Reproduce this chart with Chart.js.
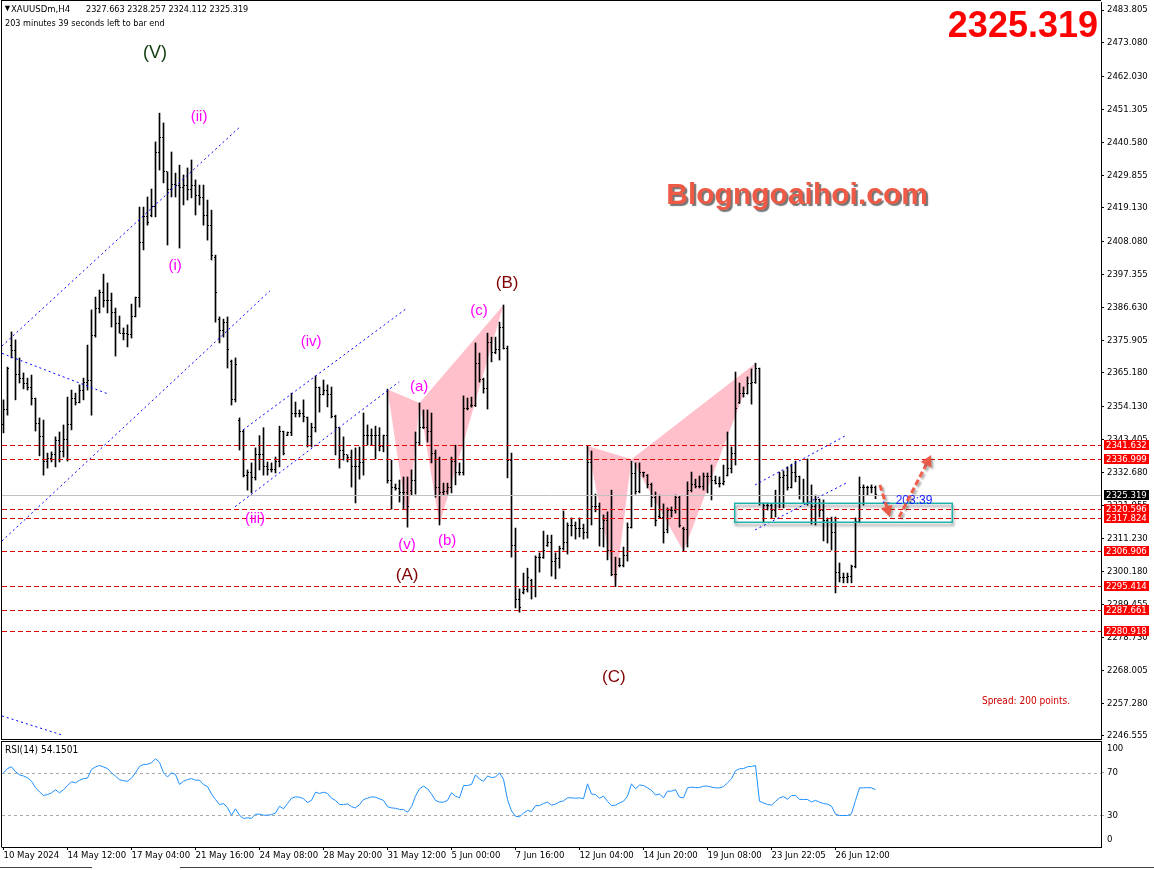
<!DOCTYPE html>
<html>
<head>
<meta charset="utf-8">
<script src="https://cdn.jsdelivr.net/npm/chart.js@4.4.1/dist/chart.umd.min.js"></script>
<style>
  html, body { margin: 0; padding: 0; background: #fff; }
  #wrap { position: relative; width: 1154px; height: 870px; overflow: hidden; }
  canvas { position: absolute; left: 0; }
  #main { top: 0; }
  #rsi { top: 740px; }
</style>
</head>
<body>
<div id="wrap">
  <canvas id="main" width="1154" height="740"></canvas>
  <canvas id="rsi" width="1154" height="130"></canvas>
</div>
<script>
// XAUUSDm H4 bars, 10 May 2024 .. 26 Jun 2024 (bar index 0..218)
const opens = [
  2348.2, 2353.1, 2374.3, 2372.4, 2364.8, 2363.5, 2361.9, 2360.6, 2357.0, 2348.8,
  2344.3, 2336.1, 2337.4, 2338.4, 2343.0, 2339.4, 2343.6, 2348.2, 2356.7, 2355.4,
  2359.6, 2362.2, 2362.6, 2377.3, 2386.4, 2391.6, 2389.0, 2389.0, 2384.8, 2381.5,
  2378.2, 2378.2, 2377.6, 2383.8, 2389.7, 2407.7, 2416.2, 2416.8, 2419.7, 2437.4,
  2442.3, 2430.9, 2425.0, 2426.9, 2426.6, 2425.9, 2426.6, 2425.0, 2426.6, 2423.3,
  2422.4, 2416.8, 2413.5, 2402.8, 2382.5, 2379.2, 2381.8, 2368.8, 2356.4, 2349.8,
  2345.9, 2331.8, 2332.5, 2330.9, 2338.4, 2338.4, 2334.5, 2333.8, 2333.8, 2336.1,
  2345.9, 2344.9, 2345.6, 2352.1, 2352.1, 2352.1, 2350.5, 2344.3, 2347.3, 2360.3,
  2358.0, 2359.6, 2358.0, 2350.8, 2347.3, 2340.0, 2338.4, 2337.7, 2334.5, 2334.5,
  2335.8, 2344.7, 2344.7, 2344.7, 2344.7, 2341.3, 2344.7, 2330.2, 2327.9, 2327.3,
  2326.0, 2326.0, 2326.9, 2330.2, 2342.6, 2347.3, 2347.3, 2345.9, 2339.0, 2327.9,
  2326.0, 2326.3, 2327.6, 2336.4, 2332.5, 2332.5, 2353.7, 2354.5, 2354.7, 2368.4,
  2363.2, 2360.0, 2375.3, 2372.0, 2372.7, 2380.2, 2373.3, 2336.7, 2308.9, 2291.0,
  2293.6, 2294.3, 2297.5, 2295.5, 2305.0, 2305.0, 2308.9, 2309.9, 2303.7, 2304.7,
  2307.7, 2309.9, 2315.5, 2315.5, 2314.5, 2314.5, 2312.9, 2335.8, 2321.4, 2321.4,
  2314.5, 2317.1, 2307.3, 2299.2, 2302.4, 2302.4, 2305.7, 2314.8, 2332.2, 2326.3,
  2332.5, 2331.8, 2328.6, 2324.6, 2318.3, 2318.1, 2313.9, 2320.4, 2320.4, 2324.6,
  2314.5, 2313.9, 2326.9, 2328.6, 2328.2, 2328.2, 2331.2, 2331.2, 2330.2, 2329.2,
  2329.2, 2331.8, 2334.1, 2339.0, 2355.6, 2358.6, 2358.6, 2361.9, 2362.2, 2366.5,
  2322.4, 2322.0, 2322.0, 2320.4, 2325.3, 2330.9, 2331.8, 2327.9, 2332.5, 2331.2,
  2325.0, 2325.0, 2325.0, 2321.4, 2323.7, 2320.1, 2317.1, 2316.2, 2312.9, 2300.1,
  2298.5, 2298.5, 2298.8, 2301.8, 2316.5, 2327.6, 2327.9, 2327.9, 2327.663
];
const highs = [
  2356.4, 2367.1, 2378.6, 2376.0, 2370.1, 2365.2, 2363.5, 2364.5, 2357.0, 2350.5,
  2349.8, 2339.0, 2339.4, 2344.3, 2345.9, 2348.2, 2357.3, 2359.6, 2358.6, 2361.3,
  2363.5, 2374.3, 2385.8, 2390.0, 2392.3, 2397.5, 2394.6, 2391.3, 2386.4, 2383.8,
  2379.9, 2380.9, 2387.7, 2390.0, 2419.4, 2419.4, 2422.7, 2425.3, 2440.7, 2450.1,
  2446.9, 2430.9, 2437.4, 2430.5, 2433.1, 2429.9, 2432.2, 2434.8, 2428.3, 2426.6,
  2426.6, 2421.7, 2418.4, 2403.7, 2383.5, 2382.8, 2383.5, 2369.4, 2370.1, 2350.5,
  2346.6, 2333.5, 2335.8, 2340.7, 2344.7, 2347.3, 2336.1, 2335.8, 2337.7, 2347.8,
  2346.2, 2345.9, 2358.6, 2355.7, 2353.1, 2356.4, 2350.8, 2348.8, 2364.2, 2360.6,
  2362.9, 2361.3, 2360.6, 2351.4, 2347.3, 2344.3, 2338.4, 2340.0, 2340.7, 2341.0,
  2352.1, 2348.2, 2346.9, 2347.8, 2347.3, 2344.9, 2359.9, 2336.7, 2328.9, 2330.2,
  2331.2, 2331.2, 2333.5, 2345.9, 2355.4, 2353.1, 2353.1, 2352.1, 2340.0, 2337.7,
  2329.2, 2329.2, 2337.7, 2341.6, 2335.8, 2357.7, 2357.0, 2357.3, 2375.0, 2371.7,
  2363.5, 2378.2, 2376.9, 2376.9, 2381.8, 2387.4, 2374.0, 2339.0, 2314.5, 2294.6,
  2299.8, 2301.4, 2297.8, 2305.4, 2306.4, 2313.5, 2312.2, 2312.2, 2306.4, 2308.6,
  2320.1, 2316.2, 2317.8, 2316.5, 2317.8, 2315.8, 2341.3, 2339.7, 2325.6, 2322.7,
  2318.8, 2319.8, 2326.9, 2305.0, 2304.7, 2308.3, 2316.2, 2336.4, 2335.8, 2335.8,
  2332.8, 2332.0, 2329.2, 2326.3, 2325.3, 2322.4, 2321.1, 2321.4, 2325.3, 2325.0,
  2314.8, 2329.6, 2332.8, 2330.5, 2331.5, 2332.5, 2332.5, 2335.1, 2331.5, 2331.2,
  2335.1, 2345.9, 2341.0, 2365.5, 2361.9, 2360.6, 2363.9, 2366.5, 2368.4, 2366.8,
  2322.7, 2322.7, 2322.4, 2326.9, 2332.8, 2333.2, 2334.5, 2335.4, 2336.4, 2331.5,
  2330.5, 2337.1, 2328.6, 2325.3, 2324.0, 2323.7, 2317.8, 2318.1, 2318.1, 2303.1,
  2299.8, 2299.8, 2302.4, 2317.8, 2331.2, 2328.6, 2328.2, 2328.6, 2328.257
];
const lows = [
  2345.6, 2351.4, 2370.1, 2356.4, 2361.9, 2360.0, 2359.6, 2354.7, 2346.2, 2338.1,
  2331.8, 2334.1, 2336.1, 2334.5, 2336.1, 2337.7, 2336.4, 2346.6, 2354.7, 2355.4,
  2356.4, 2359.6, 2351.4, 2376.9, 2384.8, 2386.7, 2384.8, 2380.2, 2370.7, 2378.2,
  2376.0, 2373.7, 2376.6, 2383.5, 2386.7, 2405.4, 2413.5, 2416.2, 2416.2, 2431.5,
  2427.3, 2407.0, 2422.7, 2422.7, 2406.0, 2420.1, 2421.7, 2422.4, 2416.8, 2420.1,
  2413.5, 2408.6, 2402.1, 2381.8, 2375.0, 2376.9, 2366.8, 2354.7, 2355.7, 2340.0,
  2331.2, 2326.9, 2326.0, 2330.2, 2333.5, 2331.8, 2331.8, 2332.8, 2332.5, 2334.5,
  2338.4, 2344.7, 2344.7, 2350.8, 2350.8, 2349.2, 2341.0, 2341.0, 2345.9, 2352.4,
  2358.0, 2354.1, 2350.5, 2338.4, 2334.1, 2336.7, 2336.1, 2327.9, 2322.7, 2330.5,
  2331.8, 2341.6, 2341.6, 2337.1, 2339.7, 2339.4, 2329.2, 2320.7, 2326.9, 2323.0,
  2320.7, 2314.8, 2325.3, 2325.6, 2341.6, 2347.0, 2342.6, 2335.8, 2324.6, 2315.5,
  2325.3, 2325.6, 2326.0, 2328.6, 2331.8, 2331.8, 2353.1, 2354.0, 2354.2, 2362.2,
  2358.6, 2353.4, 2368.8, 2371.5, 2369.4, 2373.0, 2330.9, 2305.0, 2288.4, 2287.0,
  2293.0, 2293.6, 2291.3, 2292.0, 2300.1, 2304.6, 2308.5, 2298.8, 2297.9, 2301.4,
  2307.3, 2306.0, 2311.9, 2310.9, 2311.6, 2310.9, 2311.2, 2315.5, 2319.8, 2308.6,
  2308.3, 2304.1, 2298.9, 2295.4, 2301.8, 2301.8, 2303.7, 2314.5, 2325.6, 2326.0,
  2331.2, 2327.6, 2321.4, 2315.2, 2317.8, 2309.6, 2312.9, 2318.1, 2319.4, 2314.8,
  2306.9, 2308.3, 2326.3, 2327.6, 2327.6, 2326.9, 2326.0, 2323.7, 2328.9, 2327.9,
  2328.6, 2331.5, 2332.5, 2335.1, 2355.2, 2357.3, 2358.3, 2355.0, 2361.8, 2322.0,
  2316.2, 2320.4, 2317.8, 2318.1, 2321.1, 2321.1, 2326.9, 2327.6, 2329.6, 2324.0,
  2322.7, 2322.0, 2315.8, 2315.5, 2318.1, 2310.3, 2309.6, 2307.3, 2293.3, 2296.9,
  2296.6, 2296.6, 2296.6, 2301.5, 2316.2, 2322.0, 2325.3, 2326.0, 2324.112
];
const closes = [
  2353.1, 2366.8, 2372.4, 2364.8, 2363.5, 2361.9, 2360.6, 2357.0, 2348.8, 2344.3,
  2336.1, 2337.4, 2338.4, 2343.0, 2339.4, 2343.6, 2348.2, 2356.7, 2355.4, 2359.6,
  2362.2, 2362.6, 2377.3, 2386.4, 2391.6, 2389.0, 2389.0, 2384.8, 2381.5, 2378.2,
  2378.2, 2377.6, 2383.8, 2389.7, 2407.7, 2416.2, 2414.2, 2419.7, 2437.4, 2442.3,
  2430.9, 2425.0, 2426.9, 2426.6, 2425.9, 2426.6, 2425.0, 2426.6, 2423.3, 2422.4,
  2416.8, 2413.5, 2403.7, 2391.6, 2379.2, 2381.8, 2372.7, 2356.4, 2368.1, 2345.9,
  2331.8, 2332.5, 2330.9, 2338.4, 2338.4, 2334.5, 2333.8, 2333.8, 2336.1, 2345.9,
  2339.0, 2345.6, 2352.1, 2352.1, 2352.1, 2350.8, 2344.3, 2347.3, 2360.3, 2358.0,
  2359.6, 2358.0, 2350.8, 2347.3, 2340.0, 2338.4, 2337.7, 2334.5, 2334.5, 2335.8,
  2344.7, 2344.7, 2344.7, 2344.7, 2341.3, 2344.7, 2330.2, 2327.9, 2327.3, 2326.0,
  2326.0, 2321.4, 2330.2, 2342.6, 2347.3, 2347.3, 2345.9, 2339.0, 2327.9, 2326.0,
  2326.3, 2327.6, 2336.4, 2332.5, 2332.5, 2353.7, 2353.7, 2354.7, 2368.4, 2363.2,
  2360.0, 2375.3, 2372.0, 2372.7, 2380.2, 2373.3, 2336.7, 2308.9, 2291.0, 2288.4,
  2294.3, 2298.5, 2295.5, 2305.0, 2305.0, 2307.3, 2309.9, 2303.7, 2304.7, 2307.7,
  2309.9, 2315.5, 2315.5, 2314.5, 2314.5, 2312.9, 2335.8, 2321.4, 2321.4, 2314.5,
  2317.1, 2307.3, 2299.2, 2299.2, 2302.4, 2305.7, 2314.8, 2332.2, 2326.3, 2332.5,
  2332.5, 2328.6, 2324.6, 2317.1, 2318.1, 2312.9, 2320.4, 2320.4, 2324.6, 2315.5,
  2313.9, 2326.9, 2328.6, 2328.2, 2328.2, 2331.2, 2331.2, 2330.2, 2329.2, 2329.2,
  2329.6, 2334.1, 2339.0, 2353.7, 2358.6, 2358.6, 2361.9, 2362.2, 2366.5, 2322.4,
  2322.0, 2322.0, 2320.4, 2325.3, 2330.9, 2331.8, 2327.9, 2332.5, 2331.2, 2325.0,
  2325.0, 2325.0, 2321.4, 2323.7, 2320.1, 2317.1, 2316.2, 2312.9, 2300.1, 2298.5,
  2298.5, 2298.8, 2301.8, 2316.5, 2327.6, 2327.9, 2327.9, 2327.9, 2325.319
];
const rsi14 = [
  70, 74, 75.7, 71, 68, 67, 65.3, 62, 56, 52,
  48.6, 49.5, 51, 54, 51.1, 54, 58, 61.5, 60.5, 63,
  64.5, 65, 73.2, 75.5, 76.9, 75.5, 74, 70, 66.9, 63.5,
  62.5, 62.1, 65, 70, 76, 77.9, 78, 79.5, 83.2, 80,
  70, 66, 70, 68.5, 59, 62, 63.7, 64.5, 63, 63,
  59, 57, 50, 44.8, 40, 41, 37, 30, 36, 30,
  27, 27.5, 27, 31, 31, 30, 30, 30.6, 32, 38.5,
  36, 41, 46, 47.3, 47, 45.5, 42, 44, 51.7, 50.5,
  51.7, 50.5, 46, 44, 40.1, 40, 40.7, 38, 36.9, 40,
  44.8, 46, 47.3, 47, 45.4, 44, 38, 36.9, 36.5, 35.5,
  35.4, 32.8, 38, 48, 55, 57.4, 55, 50, 43.9, 42.3,
  42.3, 44, 51.1, 48, 46.4, 58, 58, 59, 68, 64,
  62, 67, 65.5, 66, 70, 64, 44.8, 34, 29, 28.5,
  32, 34.5, 33.5, 39, 39.1, 41, 42.3, 39.5, 40.5, 42.5,
  43.5, 46.4, 46.4, 46, 46.4, 45.5, 59.6, 50, 49.5, 46,
  48, 43, 39.1, 39.5, 41.5, 43.2, 48, 59.6, 55, 58.5,
  58, 55.8, 53.5, 49, 50, 46.4, 52.7, 52.7, 54, 47,
  46.4, 55.8, 56.5, 56, 56, 57.4, 57.4, 56.5, 55.8, 55.8,
  57, 60.6, 64.3, 72, 73.8, 74, 75.7, 76, 76.9, 43.2,
  41.5, 40.1, 39.5, 43, 46.4, 47.5, 45, 48.6, 48.6, 45,
  44.8, 44.8, 42.5, 44, 42.3, 41, 40.5, 38.5, 31, 29.7,
  29.7, 29.7, 31.5, 44, 55.8, 55.8, 56, 55.8, 54.15
];

const priceTicks = [2483.805, 2473.080, 2462.030, 2451.305, 2440.580, 2429.855, 2419.130, 2408.080,
  2397.355, 2386.630, 2375.905, 2365.180, 2354.130, 2343.405, 2332.680, 2321.955, 2311.230,
  2300.180, 2289.455, 2278.730, 2268.005, 2257.280, 2246.555];
const timeLabels = ['10 May 2024', '14 May 12:00', '17 May 04:00', '21 May 16:00', '24 May 08:00',
  '28 May 20:00', '31 May 12:00', '5 Jun 00:00', '7 Jun 16:00', '12 Jun 04:00', '14 Jun 20:00',
  '19 Jun 08:00', '23 Jun 22:05', '26 Jun 12:00'];
const timeLabelBars = [0, 16, 32, 48, 64, 80, 96, 112, 128, 144, 160, 176, 192, 208];
const levels = [2341.632, 2336.999, 2320.596, 2317.824, 2306.906, 2295.414, 2287.661, 2280.918];
const bid = 2325.319;
const rsiLast = '54.1501';
const rsiLevels = [70, 30];

// drawn objects on the chart (bar index, price)
const channels = [
  [-0.375, 2374.0, 59.1, 2445.6],
  [-0.375, 2310.3, 66.6, 2392.0],
  [-0.375, 2371.6, 25.8, 2358.5],
  [59.9, 2346.6, 100.9, 2386.4],
  [57.9, 2321.5, 98.9, 2362.3],
  [187.9, 2328.6, 210.8, 2344.9],
  [187.9, 2313.9, 210.8, 2329.3],
  [-0.375, 2253.1, 14.6, 2246.9]
];
const patterns = [
  [[96, 2359.9], [101, 2316.0], [104, 2355.4]],
  [[104, 2355.4], [109, 2315.5], [125, 2387.4]],
  [[146, 2341.3], [153, 2295.4], [157, 2337.0]],
  [[157, 2337.0], [170, 2306.9], [188, 2368.4]]
];
const waveLabels = [
  ['(V)', 37.9, 2469.75, '#0b3b0b', 18],
  ['(ii)', 48.9, 2448.8, '#ff00ff', 15],
  ['(i)', 42.9, 2400.1, '#ff00ff', 15],
  ['(iv)', 76.9, 2375.3, '#ff00ff', 15],
  ['(iii)', 62.9, 2317.5, '#ff00ff', 15],
  ['(v)', 100.9, 2309.0, '#ff00ff', 15],
  ['(a)', 103.9, 2360.6, '#ff00ff', 15],
  ['(b)', 110.9, 2310.3, '#ff00ff', 15],
  ['(c)', 118.9, 2385.4, '#ff00ff', 15],
  ['(B)', 125.9, 2394.6, '#800000', 17],
  ['(A)', 100.9, 2299.2, '#800000', 17],
  ['(C)', 152.6, 2265.8, '#800000', 17]
];
const zone = [182.8, 2322.6, 237.2, 2316.4];
const arrows = [[219.1, 2328.6, 221.6, 2318.1], [223.9, 2318.1, 231.9, 2338.4]];

const SMALL = "'DejaVu Sans Condensed', 'Liberation Sans', sans-serif";
const SANS = "'Liberation Sans', Arial, sans-serif";
const X_MIN = -0.375, X_MAX = 274.375;

function tickImage(col) {
  const c = document.createElement('canvas');
  c.width = 3; c.height = 1;
  const g = c.getContext('2d');
  g.fillStyle = '#000';
  g.fillRect(col, 0, 1, 1);
  return c;
}
const openTick = tickImage(0);
const closeTick = tickImage(2);

function text(ctx, s, x, y, font, color, align) {
  ctx.font = font;
  ctx.fillStyle = color;
  ctx.textAlign = align || 'center';
  ctx.textBaseline = 'middle';
  ctx.fillText(s, x, y);
}

function drawArrow(ctx, x1, y1, x2, y2) {
  const ang = Math.atan2(y2 - y1, x2 - x1);
  const head = 11;
  const bx = x2 - Math.cos(ang) * head, by = y2 - Math.sin(ang) * head;
  ctx.save();
  ctx.shadowColor = 'rgba(0,0,0,0.35)';
  ctx.shadowOffsetX = 2; ctx.shadowOffsetY = 2; ctx.shadowBlur = 2;
  ctx.strokeStyle = 'rgba(240,80,60,0.9)';
  ctx.fillStyle = 'rgba(240,80,60,0.9)';
  ctx.lineWidth = 3;
  ctx.setLineDash([6, 3]);
  ctx.beginPath(); ctx.moveTo(x1, y1); ctx.lineTo(bx, by); ctx.stroke();
  ctx.setLineDash([]);
  ctx.beginPath();
  ctx.moveTo(x2, y2);
  ctx.lineTo(bx + Math.sin(ang) * 6, by - Math.cos(ang) * 6);
  ctx.lineTo(bx - Math.sin(ang) * 6, by + Math.cos(ang) * 6);
  ctx.closePath(); ctx.fill();
  ctx.restore();
}

const mainObjects = {
  id: 'mainObjects',
  beforeDatasetsDraw(chart) {
    const { ctx, chartArea: a, scales: { x, y } } = chart;
    ctx.save();
    ctx.beginPath(); ctx.rect(a.left, a.top, a.width, a.height); ctx.clip();
    ctx.fillStyle = '#ffc0cb';
    patterns.forEach(tri => {
      ctx.beginPath();
      tri.forEach(([b, p], k) => {
        const px = x.getPixelForValue(b), py = y.getPixelForValue(p);
        if (k) ctx.lineTo(px, py); else ctx.moveTo(px, py);
      });
      ctx.closePath(); ctx.fill();
    });
    ctx.restore();
    ctx.imageSmoothingEnabled = false;
  },
  afterDatasetsDraw(chart) {
    const { ctx, chartArea: a, scales: { x, y } } = chart;
    const X = b => x.getPixelForValue(b), Y = p => y.getPixelForValue(p);
    const crisp = v => Math.round(v) + 0.5;
    ctx.save();
    ctx.beginPath(); ctx.rect(a.left, a.top, a.width, a.height); ctx.clip();
    ctx.lineWidth = 1;

    // support / resistance levels
    ctx.strokeStyle = '#e00000';
    ctx.setLineDash([5, 3]);
    levels.forEach(p => {
      const yy = crisp(Y(p));
      ctx.beginPath(); ctx.moveTo(a.left, yy); ctx.lineTo(a.right, yy); ctx.stroke();
    });
    ctx.setLineDash([]);
    ctx.strokeStyle = '#c0c0c0';
    const by = crisp(Y(bid));
    ctx.beginPath(); ctx.moveTo(a.left, by); ctx.lineTo(a.right, by); ctx.stroke();

    // channels
    ctx.strokeStyle = '#0000ff';
    ctx.setLineDash([2, 3]);
    channels.forEach(([b1, p1, b2, p2]) => {
      ctx.beginPath(); ctx.moveTo(X(b1), Y(p1)); ctx.lineTo(X(b2), Y(p2)); ctx.stroke();
    });
    ctx.setLineDash([]);

    // zone
    const zx1 = X(zone[0]), zy1 = Y(zone[1]), zx2 = X(zone[2]), zy2 = Y(zone[3]);
    ctx.save();
    ctx.shadowColor = 'rgba(0,0,0,0.45)';
    ctx.shadowOffsetX = 1; ctx.shadowOffsetY = 3; ctx.shadowBlur = 3;
    ctx.strokeStyle = '#20b2aa';
    ctx.lineWidth = 1.5;
    ctx.strokeRect(zx1, zy1, zx2 - zx1, zy2 - zy1);
    ctx.restore();

    // wave labels
    waveLabels.forEach(([s, b, p, c, size]) => text(ctx, s, X(b), Y(p), size + 'px ' + SANS, c));

    // bar countdown
    text(ctx, '\u2190 203:39', X(219.2), Y(bid) + 6, '12px ' + SANS, '#1a1aff', 'left');

    arrows.forEach(([b1, p1, b2, p2]) => drawArrow(ctx, X(b1), Y(p1), X(b2), Y(p2)));

    // watermark
    ctx.save();
    ctx.shadowColor = 'rgba(70,70,70,0.75)';
    ctx.shadowOffsetX = 2; ctx.shadowOffsetY = 2; ctx.shadowBlur = 1;
    text(ctx, 'Blogngoaihoi.com', X(198.4), Y(2423.0), 'bold 30px ' + SANS, '#ee5a45');
    ctx.restore();

    text(ctx, bid.toFixed(3), a.right - 3, a.top + 25, 'bold 36px ' + SANS, '#ff0000', 'right');
    text(ctx, 'Spread: 200 points.', a.right - 31, a.bottom - 38, '10px ' + SMALL, '#d00000', 'right');

    // header
    text(ctx, '\u25BC', 3, 9, '9px ' + SANS, '#000', 'left');
    text(ctx, 'XAUUSDm,H4', 11, 10, '9.5px ' + SMALL, '#000', 'left');
    text(ctx, '2327.663 2328.257 2324.112 2325.319', 86, 10, '9px ' + SMALL, '#000', 'left');
    text(ctx, '203 minutes 39 seconds left to bar end', 5, 24, '9px ' + SMALL, '#000', 'left');
    ctx.restore();
  },
  afterDraw(chart) {
    const { ctx, chartArea: a, scales: { y } } = chart;
    ctx.save();
    const box = (p, bg) => {
      const yy = Math.round(y.getPixelForValue(p));
      ctx.fillStyle = bg;
      ctx.fillRect(a.right + 3, yy - 5, 45, 10);
      text(ctx, p.toFixed(3), a.right + 5, yy + 0.5, '9.5px ' + SMALL, '#fff', 'left');
    };
    levels.forEach(p => box(p, '#ff0000'));
    box(bid, '#000');
    ctx.strokeStyle = '#000';
    ctx.lineWidth = 1;
    ctx.beginPath();
    ctx.moveTo(1.5, 0); ctx.lineTo(1.5, a.bottom + 0.5);
    ctx.moveTo(1, 0.5); ctx.lineTo(a.right, 0.5);
    ctx.moveTo(1, 739.5); ctx.lineTo(a.right, 739.5);
    ctx.stroke();
    ctx.restore();
  }
};

const rsiObjects = {
  id: 'rsiObjects',
  beforeDatasetsDraw(chart) {
    const { ctx, chartArea: a, scales: { y } } = chart;
    ctx.save();
    ctx.strokeStyle = '#a8a8a8';
    ctx.lineWidth = 1;
    ctx.setLineDash([3, 3]);
    rsiLevels.forEach(v => {
      const yy = Math.round(y.getPixelForValue(v)) + 0.5;
      ctx.beginPath(); ctx.moveTo(a.left, yy); ctx.lineTo(a.right, yy); ctx.stroke();
    });
    ctx.restore();
  },
  afterDraw(chart) {
    const { ctx, chartArea: a } = chart;
    ctx.save();
    text(ctx, 'RSI(14) ' + rsiLast, 5, 10, '10px ' + SMALL, '#000', 'left');
    ctx.strokeStyle = '#000';
    ctx.lineWidth = 1;
    ctx.beginPath();
    ctx.moveTo(1.5, 1); ctx.lineTo(1.5, a.bottom + 0.5);
    ctx.moveTo(1, 1.5); ctx.lineTo(a.right, 1.5);
    ctx.stroke();
    ctx.strokeStyle = '#404040';
    ctx.beginPath();
    ctx.moveTo(0, 127.5); ctx.lineTo(92, 127.5);
    ctx.moveTo(180, 127.5); ctx.lineTo(1154, 127.5);
    ctx.stroke();
    ctx.restore();
  }
};

new Chart(document.getElementById('main'), {
  type: 'bar',
  data: {
    datasets: [
      {
        type: 'bar',
        data: highs.map((h, i) => ({ x: i, y: [lows[i], h] })),
        backgroundColor: '#000',
        borderWidth: 0,
        barThickness: 1,
        order: 3
      },
      {
        type: 'scatter',
        data: opens.map((v, i) => ({ x: i, y: v })),
        pointStyle: openTick,
        pointRadius: 1,
        order: 2
      },
      {
        type: 'scatter',
        data: closes.map((v, i) => ({ x: i, y: v })),
        pointStyle: closeTick,
        pointRadius: 1,
        order: 1
      }
    ]
  },
  options: {
    animation: false,
    responsive: false,
    events: [],
    layout: { autoPadding: false, padding: { left: 2, top: 2, right: 0, bottom: 1 } },
    plugins: { legend: { display: false }, tooltip: { enabled: false } },
    scales: {
      x: { type: 'linear', min: X_MIN, max: X_MAX, offset: false, display: false },
      y: {
        position: 'right',
        min: 2245.57,
        max: 2486.42,
        afterBuildTicks: s => { s.ticks = priceTicks.map(v => ({ value: v })); },
        afterFit: s => { s.width = 53; s.paddingTop = 0; s.paddingBottom = 0; },
        ticks: {
          callback: v => v.toFixed(3),
          color: '#000',
          font: { family: SMALL, size: 9.5 },
          padding: 3,
          autoSkip: false
        },
        grid: { drawOnChartArea: false, tickLength: 3, color: '#000' },
        border: { color: '#000' }
      }
    }
  },
  plugins: [mainObjects]
});

new Chart(document.getElementById('rsi'), {
  type: 'line',
  data: {
    datasets: [{
      data: rsi14.map((v, i) => ({ x: i, y: v })),
      borderColor: '#1e90ff',
      borderWidth: 1,
      pointRadius: 0,
      tension: 0,
      fill: false
    }]
  },
  options: {
    animation: false,
    responsive: false,
    events: [],
    layout: { autoPadding: false, padding: { left: 2, top: 1, right: 0, bottom: 0 } },
    plugins: { legend: { display: false }, tooltip: { enabled: false } },
    scales: {
      x: {
        type: 'linear',
        min: X_MIN,
        max: X_MAX,
        offset: false,
        afterBuildTicks: s => { s.ticks = timeLabelBars.map(v => ({ value: v })); },
        afterFit: s => { s.height = 23; s.paddingLeft = 0; s.paddingRight = 0; },
        ticks: {
          callback: (v, i) => timeLabels[i],
          align: 'start',
          maxRotation: 0,
          autoSkip: false,
          color: '#000',
          font: { family: SMALL, size: 9.5 },
          padding: 0
        },
        grid: { drawOnChartArea: false, tickLength: 3, color: '#000' },
        border: { color: '#000' }
      },
      y: {
        position: 'right',
        min: 0,
        max: 100,
        afterBuildTicks: s => { s.ticks = [92.5, 70, 30, 7.5].map(v => ({ value: v })); },
        afterFit: s => { s.width = 53; s.paddingTop = 0; s.paddingBottom = 0; },
        ticks: {
          callback: v => (v > 90 ? '100' : v < 10 ? '0' : String(v)),
          color: '#000',
          font: { family: SMALL, size: 9.5 },
          padding: 3,
          autoSkip: false
        },
        grid: {
          drawOnChartArea: false,
          tickLength: 3,
          color: c => (c.tick && rsiLevels.includes(c.tick.value) ? '#a0a0a0' : 'rgba(0,0,0,0)')
        },
        border: { color: '#000' }
      }
    }
  },
  plugins: [rsiObjects]
});
</script>
</body>
</html>
